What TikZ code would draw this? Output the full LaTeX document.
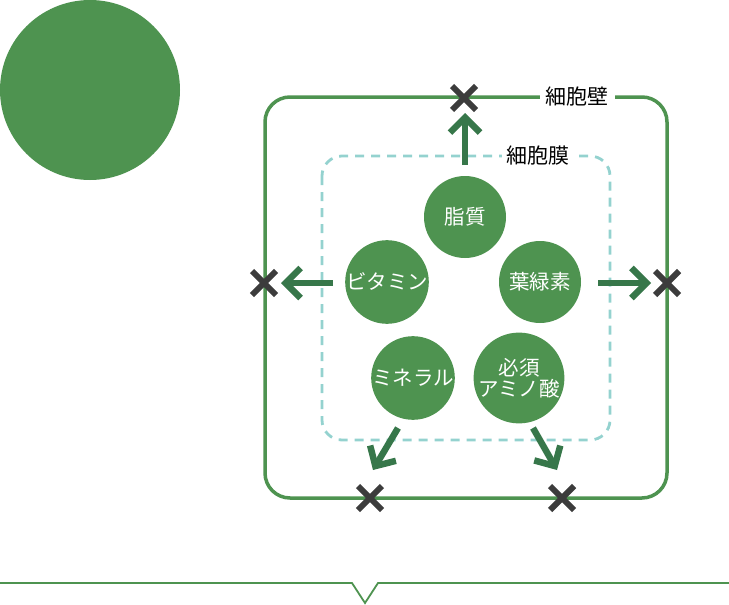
\documentclass[tikz,border=0pt]{standalone}
\usepackage{fontspec}
\setmainfont{Noto Sans CJK JP}
\usetikzlibrary{arrows.meta}
\definecolor{mgreen}{HTML}{4E9350}
\definecolor{dgreen}{HTML}{37774A}
\definecolor{xgray}{HTML}{3C3C3C}
\definecolor{teal}{HTML}{94D2CF}
\tikzset{
  nut/.style={circle, fill=mgreen, minimum size=82pt, inner sep=0pt, text=white, font=\fontsize{20.5}{26}\selectfont, align=center},
  wall/.style={draw=mgreen, line width=3.5pt, rounded corners=25pt},
  memb/.style={draw=teal, line width=2.8pt, dash pattern=on 9pt off 7pt, rounded corners=20pt},
  lbl/.style={fill=white, inner xsep=6pt, inner ysep=2pt, font=\fontsize{21}{24}\selectfont},
  arr/.style={draw=dgreen, line width=6.5pt, -{Straight Barb[length=15pt,width=30pt]}},
  xm/.style={draw=xgray, line width=6pt},
  pics/xmark/.style={code={
    \draw[xm] (-12,-12) -- (12,12);
    \draw[xm] (-12,12) -- (12,-12);
  }},
}
\begin{document}
\begin{tikzpicture}[x=1pt,y=-1pt]
\useasboundingbox (0,0) rectangle (729,605);
% big circle
\node[circle, fill=mgreen, minimum size=180pt, inner sep=0pt] (big) at (90,90) {};
% cell wall
\draw[wall] (265,97) rectangle (667,498);
\node[lbl] (wall) at (577,97) {細胞壁};
% membrane
\draw[memb] (322,156) rectangle (610,440);
\node[lbl, inner xsep=5pt] (memb) at (538,156) {細胞膜};
% nutrients
\node[nut] (lip) at (465,217) {脂質};
\node[nut] (vit) at (387,282) {ビタミン};
\node[nut] (chl) at (540,282) {葉緑素};
\node[nut] (min) at (413,378) {ミネラル};
\node[nut] (ami) at (519,378) {必須\\[-5pt]アミノ酸};
% arrow coordinates
\coordinate (a1s) at (465,165); \coordinate (a1e) at (465,113);
\coordinate (a2s) at (333,283); \coordinate (a2e) at (281,283);
\coordinate (a3s) at (598,283); \coordinate (a3e) at (651,283);
\coordinate (a4s) at (398,428); \coordinate (a4e) at (373,470);
\coordinate (a5s) at (533,428); \coordinate (a5e) at (557,470);
\draw[arr] (a1s) -- (a1e);
\draw[arr] (a2s) -- (a2e);
\draw[arr] (a3s) -- (a3e);
\draw[arr] (a4s) -- (a4e);
\draw[arr] (a5s) -- (a5e);
% crosses
\coordinate (x1) at (464,98);
\coordinate (x2) at (264,283);
\coordinate (x3) at (667,283);
\coordinate (x4) at (370,498);
\coordinate (x5) at (562,498);
\foreach \n in {x1,x2,x3,x4,x5}{ \pic at (\n) {xmark}; }
% bottom line with notch
\coordinate (bl) at (0,583); \coordinate (br) at (729,583);
\coordinate (n1) at (352,583); \coordinate (n2) at (365,603); \coordinate (n3) at (378,583);
\draw[mgreen, line width=1.8pt] (bl) -- (n1) -- (n2) -- (n3) -- (br);
\end{tikzpicture}
\end{document}
